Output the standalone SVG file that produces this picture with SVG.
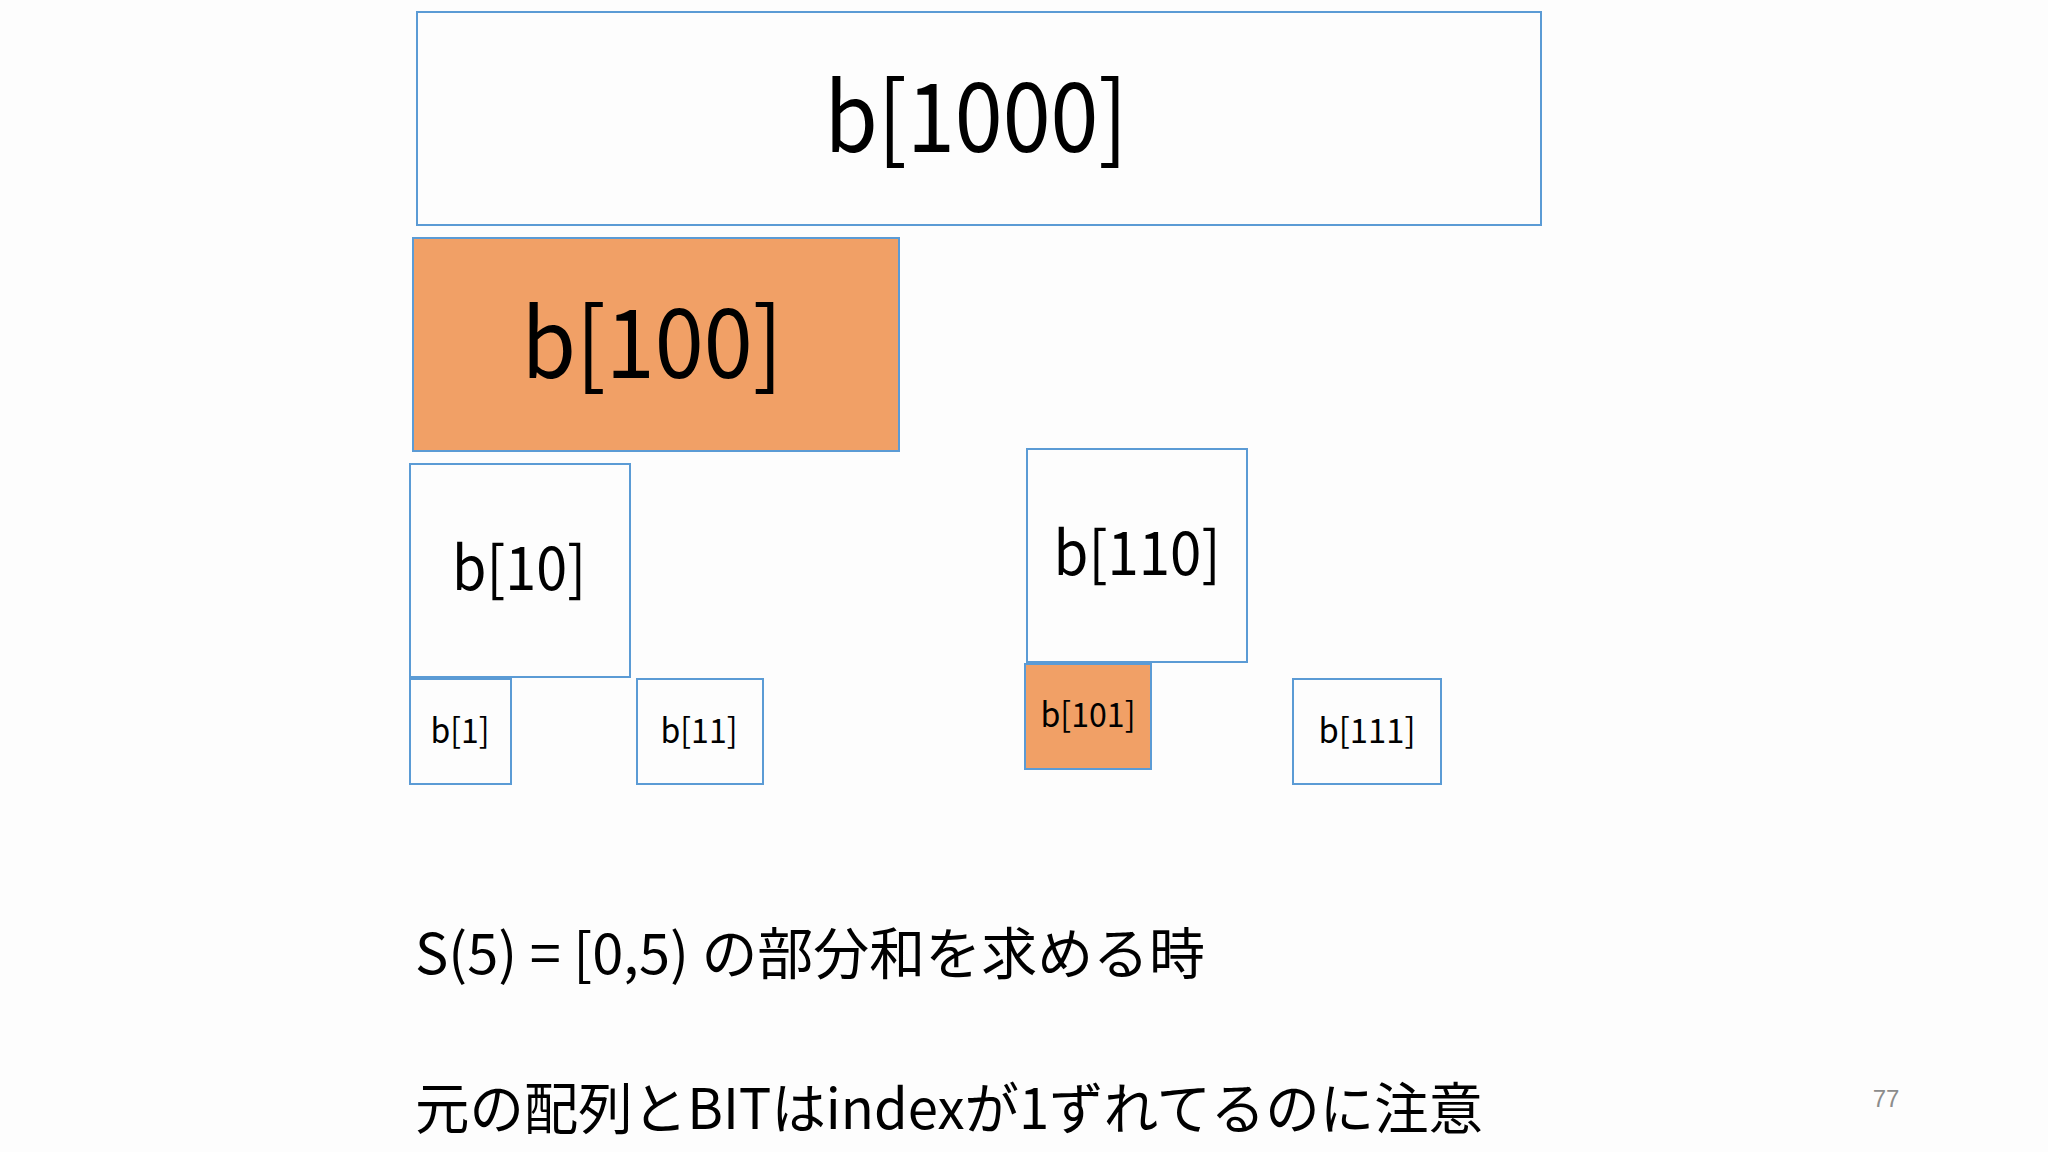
<svg xmlns="http://www.w3.org/2000/svg" width="2048" height="1152" viewBox="0 0 2048 1152">
<style>
.box{fill:#fdfdfd;stroke:#5b9bd5;stroke-width:2}
.hot{fill:#f1a066;stroke:#5b9bd5;stroke-width:2}
.lbl{font-family:"Noto Sans CJK JP","Noto Sans",sans-serif;fill:#000;text-anchor:middle}
.txt{font-family:"Noto Sans CJK JP",sans-serif;fill:#000;font-size:56px}
</style>
<rect width="2048" height="1152" fill="#fdfdfd"/>
<g id="b1000"><rect class="box" x="417" y="12" width="1124" height="213"/><text class="lbl" x="976" y="152" font-size="96" textLength="303" lengthAdjust="spacingAndGlyphs">b[1000]</text></g>
<g id="b100"><rect class="hot" x="413" y="238" width="486" height="213"/><text class="lbl" x="652" y="378" font-size="96" textLength="261" lengthAdjust="spacingAndGlyphs">b[100]</text></g>
<g id="b10"><rect class="box" x="410" y="464" width="220" height="213"/><text class="lbl" x="519" y="590" font-size="60" textLength="134" lengthAdjust="spacingAndGlyphs">b[10]</text></g>
<g id="b110"><rect class="box" x="1027" y="449" width="220" height="213"/><text class="lbl" x="1137" y="575" font-size="60" textLength="167" lengthAdjust="spacingAndGlyphs">b[110]</text></g>
<g id="b1"><rect class="box" x="410" y="679" width="101" height="105"/><text class="lbl" x="460" y="743" font-size="34" textLength="59" lengthAdjust="spacingAndGlyphs">b[1]</text></g>
<g id="b11"><rect class="box" x="637" y="679" width="126" height="105"/><text class="lbl" x="699" y="743" font-size="34" textLength="77" lengthAdjust="spacingAndGlyphs">b[11]</text></g>
<g id="b101"><rect class="hot" x="1025" y="664" width="126" height="105"/><text class="lbl" x="1088" y="727" font-size="34" textLength="95" lengthAdjust="spacingAndGlyphs">b[101]</text></g>
<g id="b111"><rect class="box" x="1293" y="679" width="148" height="105"/><text class="lbl" x="1367" y="743" font-size="34" textLength="97" lengthAdjust="spacingAndGlyphs">b[111]</text></g>
<g id="connectors"></g>
<g id="notes">
<text class="txt" x="415" y="974" textLength="790" lengthAdjust="spacingAndGlyphs">S(5) = [0,5) の部分和を求める時</text>
<text class="txt" x="415" y="1129" textLength="1068" lengthAdjust="spacingAndGlyphs">元の配列とBITはindexが1ずれてるのに注意</text>
<text x="1886" y="1107" font-family="Liberation Sans, sans-serif" font-size="24" fill="#8c8c8c" text-anchor="middle">77</text>
</g>
</svg>
